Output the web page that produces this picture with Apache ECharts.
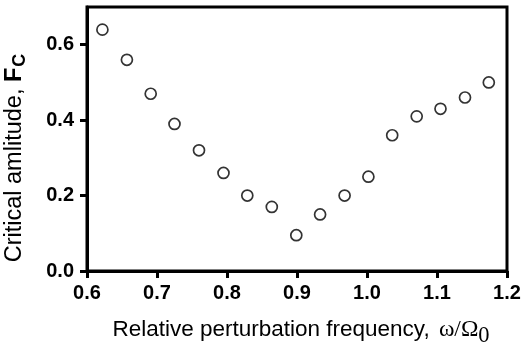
<!DOCTYPE html>
<html>
<head>
<meta charset="utf-8">
<script src="https://cdn.jsdelivr.net/npm/echarts@6/dist/echarts.min.js"></script>
<style>html,body{margin:0;padding:0;background:#fff}#c{width:523px;height:347px}</style>
</head>
<body>
<div id="c"></div>
<script>
var freq = [0.622, 0.657, 0.691, 0.725, 0.760, 0.795, 0.829, 0.864, 0.899, 0.933, 0.968, 1.002, 1.036, 1.071, 1.105, 1.140, 1.174];
var amp = [0.64, 0.56, 0.47, 0.39, 0.32, 0.26, 0.20, 0.17, 0.095, 0.15, 0.20, 0.25, 0.36, 0.41, 0.43, 0.46, 0.50];
var yTicks = [0, 0.2, 0.4, 0.6];
var xTicks = [0.6, 0.7, 0.8, 0.9, 1.0, 1.1, 1.2];

var pts = freq.map(function (f, i) { return [f, amp[i]]; });
var chart = echarts.init(document.getElementById('c'), null, {renderer: 'canvas'});
var sans = '"Liberation Sans", Arial, sans-serif';
var serif = '"Liberation Serif", "Times New Roman", serif';
chart.setOption({
  animation: false,
  grid: {left: 87, right: 16, top: 7, bottom: 76, show: true, borderColor: '#000', borderWidth: 3,
    backgroundColor: 'transparent', containLabel: false, outerBoundsMode: 'none'},
  xAxis: {
    type: 'value', min: 0.6, max: 1.2, interval: 0.1,
    name: 'Relative perturbation frequency, {s|ω/Ω}{sub|0}',
    nameLocation: 'middle', nameGap: 41,
    nameTextStyle: {
      fontFamily: sans, fontSize: 22.5, color: '#000', padding: [0, 0, 0, 8],
      rich: {
        s: {fontFamily: serif, fontSize: 23.5, color: '#000', padding: [0, 0, 0, 3]},
        sub: {fontFamily: serif, fontSize: 22.5, color: '#000', padding: [13, 0, 0, 0]}
      }
    },
    axisLine: {show: true, onZero: false, lineStyle: {color: '#000', width: 3}},
    axisTick: {show: true, length: 7, lineStyle: {color: '#000', width: 3}, customValues: xTicks},
    axisLabel: {color: '#000', fontFamily: sans, fontWeight: 'bold', fontSize: 20, margin: 12,
      customValues: xTicks,
      formatter: function (v) { return v.toFixed(1); }},
    splitLine: {show: false}
  },
  yAxis: {
    type: 'value', min: 0, max: 0.7,
    name: 'Critical amlitude, {F|F}{C|C}',
    nameLocation: 'middle', nameGap: 58,
    nameTextStyle: {
      fontFamily: sans, fontSize: 23.5, color: '#000', padding: [0, 38, 0, 0],
      rich: {
        F: {fontFamily: sans, fontSize: 23.5, fontWeight: 'bold', color: '#000'},
        C: {fontFamily: sans, fontSize: 18, fontWeight: 'bold', color: '#000', padding: [11, 0, 0, 1]}
      }
    },
    axisLine: {show: true, onZero: false, lineStyle: {color: '#000', width: 3}},
    axisTick: {show: true, length: 7, lineStyle: {color: '#000', width: 3}, customValues: yTicks},
    axisLabel: {color: '#000', fontFamily: sans, fontWeight: 'bold', fontSize: 20, margin: 13,
      customValues: yTicks,
      formatter: function (v) { return v.toFixed(1); }},
    splitLine: {show: false}
  },
  series: [{
    type: 'scatter',
    data: pts,
    symbol: 'circle',
    symbolSize: 11,
    itemStyle: {color: '#fff', borderColor: '#000', borderWidth: 1.7}
  }]
});
</script>
</body>
</html>
